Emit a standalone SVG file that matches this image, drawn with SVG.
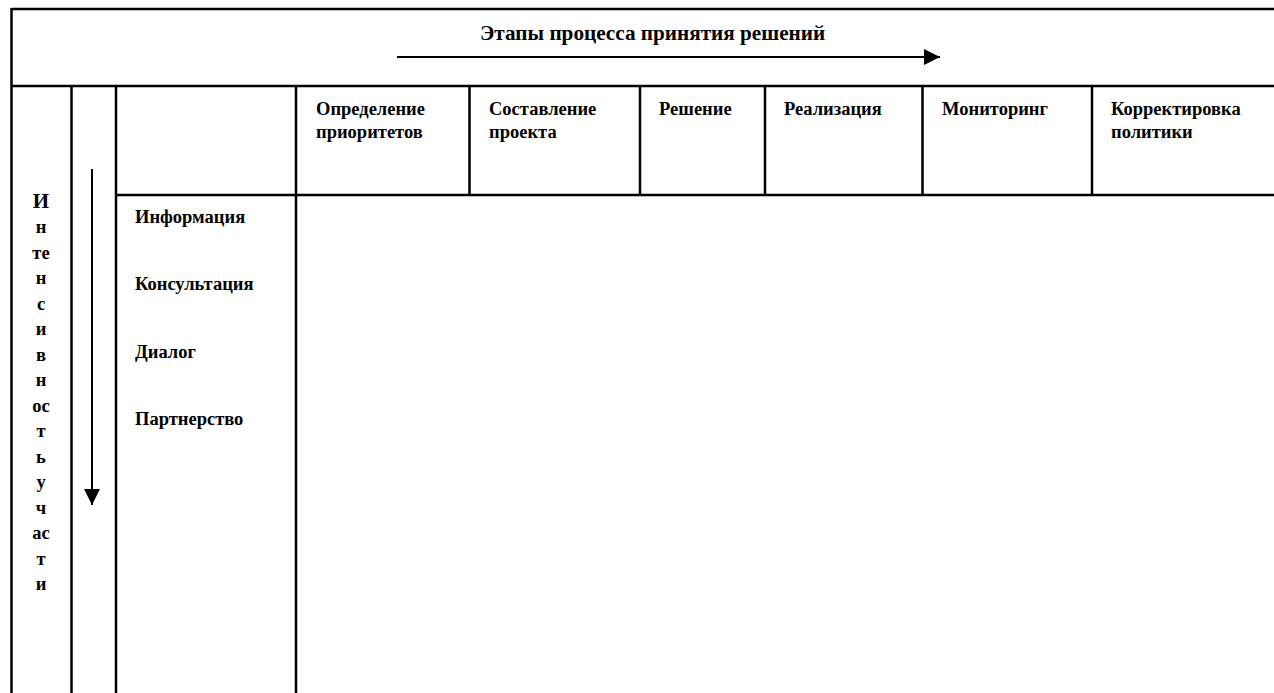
<svg xmlns="http://www.w3.org/2000/svg" width="1274" height="693" viewBox="0 0 1274 693">
<defs>
<style>
.ln{stroke:#000;stroke-width:2.5;fill:none}
.t{font-family:"Liberation Serif","Times New Roman",serif;font-weight:bold;font-size:18.5px;fill:#000}
.v{font-family:"Liberation Serif","Times New Roman",serif;font-weight:bold;font-size:18.5px;fill:#000;text-anchor:middle}
.ar{stroke:#000;stroke-width:2;fill:none}
</style>
<marker id="ah" viewBox="0 0 16 16" refX="16" refY="8" markerWidth="16" markerHeight="16" markerUnits="userSpaceOnUse" orient="auto">
<path d="M0,0 L16,8 L0,16 Z" fill="#000"/>
</marker>
</defs>
<rect width="1274" height="693" fill="#fff"/>
<g id="grid">
<line class="ln" x1="11.5" y1="9" x2="1274" y2="9"/>
<line class="ln" x1="11.5" y1="86" x2="1274" y2="86"/>
<line class="ln" x1="116" y1="195" x2="1274" y2="195"/>
<line class="ln" x1="11.5" y1="8" x2="11.5" y2="693"/>
<line class="ln" x1="71.5" y1="86" x2="71.5" y2="693"/>
<line class="ln" x1="116" y1="86" x2="116" y2="693"/>
<line class="ln" x1="296" y1="86" x2="296" y2="693"/>
<line class="ln" x1="469.5" y1="86" x2="469.5" y2="195"/>
<line class="ln" x1="640" y1="86" x2="640" y2="195"/>
<line class="ln" x1="765" y1="86" x2="765" y2="195"/>
<line class="ln" x1="922.5" y1="86" x2="922.5" y2="195"/>
<line class="ln" x1="1092" y1="86" x2="1092" y2="195"/>
</g>
<g id="connectors">
<line class="ar" x1="397" y1="57" x2="940" y2="57" marker-end="url(#ah)"/>
<line class="ar" x1="92" y1="169" x2="92" y2="505" marker-end="url(#ah)"/>
</g>
<g id="title"><text class="t" x="480" y="40" style="font-size:21.2px">Этапы процесса принятия решений</text></g>
<g id="stage1"><text class="t" x="316" y="115">Определение</text><text class="t" x="316" y="138">приоритетов</text></g>
<g id="stage2"><text class="t" x="489" y="115">Составление</text><text class="t" x="489" y="138">проекта</text></g>
<g id="stage3"><text class="t" x="659" y="115">Решение</text></g>
<g id="stage4"><text class="t" x="784" y="115">Реализация</text></g>
<g id="stage5"><text class="t" x="942" y="115">Мониторинг</text></g>
<g id="stage6"><text class="t" x="1111" y="115">Корректировка</text><text class="t" x="1111" y="138">политики</text></g>
<g id="level1"><text class="t" x="135" y="223">Информация</text></g>
<g id="level2"><text class="t" x="135" y="290">Консультация</text></g>
<g id="level3"><text class="t" x="135" y="358">Диалог</text></g>
<g id="level4"><text class="t" x="135" y="425">Партнерство</text></g>
<g id="intensity">
<text class="v" x="41" y="208" style="font-size:21px">И</text>
<text class="v" x="41" y="233">н</text>
<text class="v" x="41" y="259">те</text>
<text class="v" x="41" y="284">н</text>
<text class="v" x="41" y="310">с</text>
<text class="v" x="41" y="335">и</text>
<text class="v" x="41" y="361">в</text>
<text class="v" x="41" y="386">н</text>
<text class="v" x="41" y="412">ос</text>
<text class="v" x="41" y="437">т</text>
<text class="v" x="41" y="463">ь</text>
<text class="v" x="41" y="488">у</text>
<text class="v" x="41" y="514">ч</text>
<text class="v" x="41" y="539">ас</text>
<text class="v" x="41" y="565">т</text>
<text class="v" x="41" y="590">и</text>
</g>
</svg>
